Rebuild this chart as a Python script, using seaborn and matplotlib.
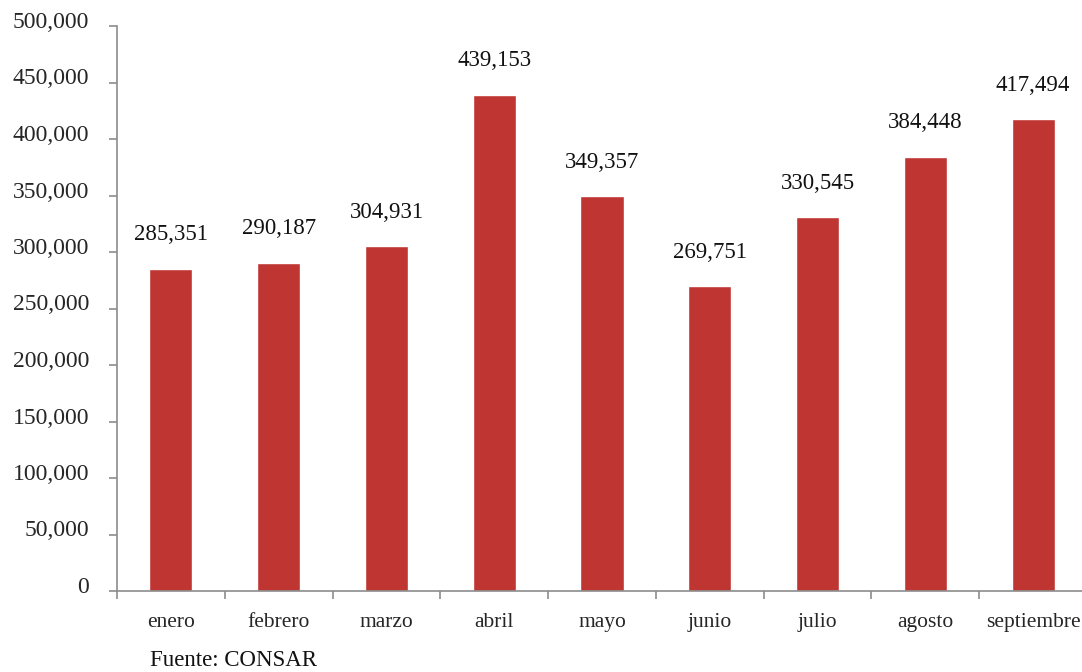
import matplotlib
matplotlib.use("Agg")
import matplotlib.pyplot as plt
import matplotlib.transforms as mtransforms
import seaborn as sns
import pandas as pd
import numpy as np

meses = ["enero", "febrero", "marzo", "abril", "mayo", "junio", "julio", "agosto", "septiembre"]
valores = [285351, 290187, 304931, 439153, 349357, 269751, 330545, 384448, 417494]
yticks = [0, 50000, 100000, 150000, 200000, 250000, 300000, 350000, 400000, 450000, 500000]
fuente = "Fuente: CONSAR"

sns.set_style("white")
plt.rcParams['font.family'] = ['Liberation Serif', 'DejaVu Serif']

df = pd.DataFrame({"mes": meses, "valor": valores})

fig = plt.figure(figsize=(10.82, 6.72), dpi=100)
ax = fig.add_axes([117/1082, 1 - 591/672, (1087 - 117)/1082, (591 - 26)/672])

sns.barplot(data=df, x="mes", y="valor", color="#BE3532", width=0.4, ax=ax, saturation=1)

ax.set_xlim(-0.5, 8.5)
ax.set_ylim(0, 500000)
ax.set_xlabel("")
ax.set_ylabel("")

ax.set_yticks(yticks)
ax.set_yticklabels([f"{v:,}" for v in yticks], fontsize=17)
ax.tick_params(axis="y", direction="out", length=6, width=1.2, color="#8c8c8c", pad=14, left=True)
shift = mtransforms.ScaledTranslation(0, 6/100, fig.dpi_scale_trans)
for lab in ax.get_yticklabels():
    lab.set_transform(lab.get_transform() + shift)

# category boundary ticks on x
ax.set_xticks(np.arange(-0.5, 8.6, 1.0))
ax.set_xticklabels([])
ax.tick_params(axis="x", which="major", direction="out", length=6, width=1.2, color="#8c8c8c", bottom=True)
ax.set_xticks(np.arange(len(meses)), minor=True)
ax.set_xticklabels(meses, minor=True, fontsize=15.5)
ax.tick_params(axis="x", which="minor", length=0, pad=16)

for s in ["top", "right"]:
    ax.spines[s].set_visible(False)
for s in ["left", "bottom"]:
    ax.spines[s].set_color("#8c8c8c")
    ax.spines[s].set_linewidth(1.2)

for i, v in enumerate(valores):
    ax.annotate(f"{v:,}", (i, v), xytext=(0, 17), textcoords="offset points",
                ha="center", va="bottom", fontsize=16.5, color="#111111")

fig.text(150/1082, 1 - 660/672, fuente, fontsize=16.5, va="center", ha="left", color="#111111")

fig.savefig("out.png", dpi=100)
